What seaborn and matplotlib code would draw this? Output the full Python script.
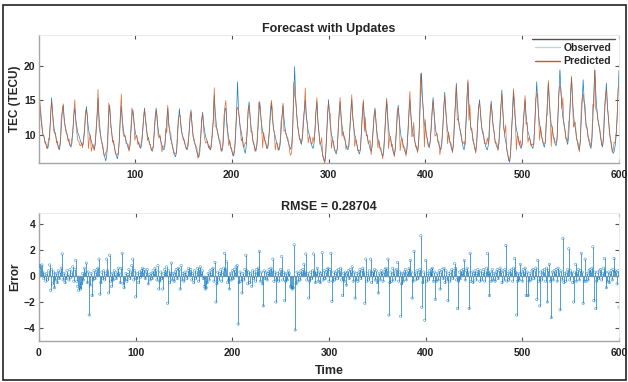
import numpy as np
import pandas as pd
import matplotlib
matplotlib.use("Agg")
import matplotlib.pyplot as plt
import seaborn as sns
from matplotlib.patches import Rectangle
from matplotlib.lines import Line2D

# ---------------- data ----------------
observed = [
    13.2,
    14.1, 12.3, 11.1, 10.1, 9.8, 9.2, 8.7, 8.3, 8.0, 8.6, 10.4, 12.6,
    15.4, 13.2, 11.6, 10.5, 10.1, 9.3, 8.7, 8.2, 7.8, 8.6, 10.9, 13.5,
    14.3, 12.5, 11.3, 10.3, 10.0, 9.4, 8.9, 8.5, 8.2, 8.8, 10.7, 12.8,
    13.9, 12.2, 11.2, 10.3, 10.0, 9.5, 9.0, 8.7, 8.4, 8.9, 10.6, 12.5,
    14.1, 12.4, 11.0, 10.1, 9.8, 9.1, 8.6, 8.2, 7.9, 8.5, 10.4, 12.6,
    15.3, 12.6, 10.8, 9.4, 8.9, 8.0, 7.3, 6.7, 6.2, 7.1, 9.8, 13.0,
    14.3, 12.0, 10.4, 9.2, 8.8, 8.1, 7.4, 6.9, 6.5, 7.3, 9.6, 12.4,
    14.2, 12.3, 11.0, 10.0, 9.7, 9.1, 8.6, 8.1, 7.8, 8.4, 10.4, 12.6,
    13.6, 11.9, 10.8, 10.0, 9.7, 9.1, 8.7, 8.3, 8.0, 8.6, 10.2, 12.2,
    13.9, 12.0, 10.8, 9.8, 9.5, 8.9, 8.4, 7.9, 7.6, 8.2, 10.1, 12.3,
    13.9, 12.1, 10.9, 9.9, 9.7, 9.0, 8.5, 8.1, 7.8, 8.4, 10.2, 12.4,
    13.9, 11.8, 10.4, 9.3, 9.0, 8.2, 7.7, 7.1, 6.8, 7.5, 9.6, 12.1,
    13.8, 12.0, 10.8, 9.9, 9.6, 9.0, 8.5, 8.1, 7.8, 8.4, 10.2, 12.3,
    13.6, 11.5, 10.2, 9.1, 8.8, 8.1, 7.5, 7.0, 6.7, 7.4, 9.5, 11.9,
    13.3, 11.6, 10.6, 9.7, 9.4, 8.9, 8.4, 8.0, 7.8, 8.3, 10.0, 12.3,
    15.8, 13.3, 11.7, 10.5, 10.1, 9.2, 8.6, 8.0, 7.6, 8.4, 10.9, 13.6,
    13.9, 11.8, 10.4, 9.4, 9.0, 8.3, 7.7, 7.2, 6.9, 7.6, 9.7, 12.8,
    17.7, 13.8, 12.1, 10.9, 10.4, 9.4, 8.5, 7.8, 7.3, 8.3, 10.9, 13.4,
    14.8, 12.6, 11.2, 10.1, 9.1, 8.5, 8.0, 7.6, 8.4, 10.5, 12.9,
    14.8, 12.7, 11.4, 10.4, 10.0, 9.3, 8.8, 8.3, 8.0, 8.7, 10.7, 13.0,
    14.6, 12.5, 11.2, 10.2, 9.8, 9.1, 8.6, 8.1, 7.8, 8.5, 10.5, 12.8,
    14.3, 12.4, 11.1, 10.1, 9.8, 9.1, 8.6, 8.2, 7.9, 8.6, 11.0, 15.2,
    19.9, 15.6, 13.2, 11.6, 10.4, 9.6, 9.0, 8.6, 9.4, 11.5, 13.4,
    15.1, 12.9, 11.6, 10.5, 10.1, 9.4, 8.9, 8.3, 8.0, 8.7, 10.8, 13.2,
    14.8, 12.2, 10.4, 9.1, 8.6, 7.8, 7.1, 6.4, 6.0, 6.9, 9.5, 12.6,
    15.1, 12.8, 11.2, 10.0, 9.6, 8.8, 8.1, 7.5, 7.2, 8.0, 10.4, 13.0,
    14.8, 12.7, 11.3, 10.3, 9.9, 9.2, 8.6, 8.1, 7.8, 8.5, 10.6, 13.0,
    15.1, 12.8, 11.2, 10.0, 9.6, 8.8, 8.1, 7.5, 7.2, 8.0, 10.4, 12.9,
    14.8, 12.6, 11.2, 10.2, 9.8, 9.0, 8.5, 7.9, 7.6, 8.3, 10.4, 12.5,
    13.9, 11.8, 10.4, 9.4, 9.0, 8.3, 7.7, 7.2, 6.9, 7.6, 9.8, 12.4,
    14.9, 12.6, 11.0, 9.9, 9.5, 8.7, 8.0, 7.4, 7.1, 7.9, 10.2, 12.6,
    14.3, 12.2, 10.8, 9.7, 9.3, 8.6, 8.0, 7.5, 7.2, 7.9, 10.1, 12.8,
    15.1, 12.9, 11.4, 10.3, 9.9, 9.1, 8.5, 8.0, 7.6, 8.6, 11.4, 15.8,
    19.0, 15.5, 13.2, 11.6, 11.0, 10.1, 9.3, 8.6, 8.1, 8.9, 10.8, 13.1,
    15.4, 13.1, 11.6, 10.4, 10.0, 9.2, 8.6, 8.1, 7.8, 8.6, 11.0, 13.5,
    16.2, 13.6, 11.9, 10.6, 10.2, 9.3, 8.6, 8.0, 7.6, 8.5, 11.2, 14.2,
    17.5, 14.6, 12.7, 11.2, 10.7, 9.7, 8.9, 8.2, 7.8, 8.8, 11.7, 15.0,
    17.7, 14.6, 12.6, 11.1, 10.6, 9.6, 8.7, 8.0, 7.6, 8.6, 11.4, 13.8,
    15.1, 12.9, 11.4, 10.3, 9.9, 9.1, 8.5, 8.0, 7.8, 8.5, 10.8, 13.1,
    14.9, 12.8, 11.4, 10.3, 9.2, 8.6, 8.2, 7.9, 8.7, 11.0, 13.9,
    16.5, 13.4, 11.2, 9.7, 9.1, 8.1, 7.2, 6.5, 6.0, 7.1, 10.2, 13.6,
    16.1, 13.6, 12.0, 10.8, 10.3, 9.4, 8.8, 8.3, 8.0, 8.9, 11.2, 13.3,
    15.1, 13.0, 11.5, 10.4, 10.0, 9.3, 8.7, 8.3, 8.0, 8.8, 11.3, 14.6,
    17.7, 14.8, 12.9, 11.5, 10.9, 9.9, 9.1, 8.5, 8.2, 9.2, 12.0, 14.9,
    17.5, 14.7, 12.9, 11.5, 11.0, 10.0, 9.2, 8.7, 8.4, 9.5, 12.6, 16.2,
    19.7, 16.3, 14.1, 12.5, 11.9, 10.8, 9.8, 9.1, 8.6, 9.7, 12.8, 15.6,
    18.3, 15.1, 13.1, 11.5, 10.9, 9.8, 8.9, 8.2, 7.8, 8.9, 12.0, 15.2,
    18.0, 15.0, 13.0, 11.5, 10.9, 9.9, 9.0, 8.4, 8.0, 9.1, 12.2, 16.0,
    19.7, 16.2, 14.0, 12.3, 11.7, 10.6, 9.6, 8.8, 8.2, 9.4, 12.7, 15.3,
    17.5, 14.4, 12.4, 10.9, 9.4, 8.5, 7.8, 7.3, 7.6, 8.4, 9.8,
    12.6, 16.2, 19.4,
]

# prediction error (Predicted - Observed)
error = [
    0.8, 0.7, 0.85, 0.3, -0.2, 0.1, -0.4, 0.2, -0.3, 0.4, 0.85, -1.1,
    0.5, -0.6, 0.3, -0.9, -0.3, 0.2, -0.5, 0.4, -0.2, 0.3, 0.6, 1.7,
    -0.3, 0.2, -0.5, -0.2, 0.4, 0.1, -0.3, 0.5, -0.1, 0.3, 0.7, -0.4,
    0.5, 1.2, -0.4, -0.8, -1.1, -0.9, -1.0, -0.6, 0.2, -0.3, 0.6, 0.3,
    1.0, -0.5, 0.3, -3.0, -0.7, 0.2, -1.5, -0.3, 0.4, -0.2, 0.3, 0.5,
    0.6, 1.3, -1.4, -0.5, 0.3, -0.2, 0.4, -0.3, 0.2, 1.3, 0.4, -1.3,
    1.6, -0.4, -0.8, 0.2, -0.3, 0.4, 0.1, -0.2, 0.3, 0.6, 0.2, -0.5,
    0.6, 1.75, -0.6, -0.9, -0.3, 0.2, -0.4, 0.1, 0.5, -0.2, 0.3, 0.8,
    1.3, -0.3, 0.4, -1.6, -0.2, 0.2, -0.5, 0.3, -0.1, 0.4, 0.6, 0.3,
    0.5, -0.2, 0.3, 0.5, -0.6, 0.1, -0.3, 0.2, -0.2, 0.4, 0.2, 0.6,
    0.4, -0.3, 0.8, -1.0, -0.4, 0.3, -0.2, -1.0, 0.2, 0.5, 0.3, 0.7,
    -2.1, 0.4, -0.5, 0.2, 1.0, -0.3, 0.2, -0.4, 0.3, 0.5, -0.2, 0.6,
    0.5, -1.0, 0.8, -0.3, 0.2, -0.4, 0.3, 0.1, -0.2, 0.4, 0.6, 0.3,
    0.5, -0.3, 0.2, -0.5, 0.4, -0.2, 0.3, 0.6, -0.4, 0.5, 0.7, 0.2,
    0.4, -0.2, -0.8, -1.0, -0.9, -0.5, 0.2, -0.3, 0.4, 0.1, 0.5, 0.6,
    -0.4, 1.05, -2.0, -0.6, 0.3, -0.3, 0.2, 0.5, -0.4, 0.3, 0.6, 1.75,
    0.5, 1.1, -0.5, -0.3, -1.0, 0.2, -0.3, 0.4, -0.2, 0.5, 0.3, 0.7,
    0.8, -3.7, -0.5, 0.3, -0.4, -1.3, 0.2, -0.3, 0.5, 1.6, 0.4, -0.6,
    0.3, -0.5, 0.2, -0.8, 0.4, -0.2, 0.3, -0.4, 0.5, 0.2, 0.6, 1.9,
    -0.4, 0.3, -0.6, -2.3, 0.4, -0.2, 0.3, -0.3, 0.2, 0.5, 0.3, 0.6,
    0.4, 1.3, -0.4, 0.3, -2.0, -0.3, 0.2, -0.4, 0.3, 0.5, 1.5, -0.3,
    0.3, -1.9, -0.4, 0.2, -0.3, 0.4, 0.2, -0.8, -0.9, -1.0, -0.9, 2.4,
    -4.15, -0.6, 0.3, -0.4, 0.2, -0.3, 0.4, 0.2, 0.5, 0.9, 0.3, 1.7,
    -0.3, 0.2, -1.7, -0.4, 0.3, -0.2, 0.4, 1.7, 0.3, -0.5, 0.2, 0.6,
    -0.4, 0.3, -0.5, 0.2, 1.8, -0.3, 0.4, -0.2, 0.3, 0.5, 0.6, -0.4,
    0.5, 1.75, -1.95, -0.4, 0.3, -0.3, 0.2, 0.4, -0.2, 0.5, 0.3, 0.6,
    -0.3, -1.5, 0.2, -0.4, 0.3, -0.7, 0.2, 0.4, -0.2, 0.5, 0.3, 0.7,
    -0.4, 0.3, -1.7, -0.3, 0.2, -0.4, 0.3, 0.5, -0.2, 0.4, 0.6, 0.3,
    -2.1, 1.3, -0.4, 0.2, -0.3, 0.4, 1.3, -0.5, 0.2, 0.3, 0.5, -0.3,
    0.4, -0.5, -1.3, 0.2, -0.3, 0.4, 0.2, -0.4, 0.3, 0.5, 0.6, 0.4,
    1.3, -3.0, -0.5, 0.3, -0.4, 0.6, 0.2, -0.3, 0.4, 0.5, 1.05, -0.4,
    0.3, -3.1, -0.6, 0.2, -0.4, 0.3, 0.5, -0.3, 0.2, 0.4, 0.6, 1.2,
    0.3, -1.7, -0.4, 1.9, 0.2, -0.3, 0.4, -0.2, 0.3, 0.5, 3.1, -2.4,
    -0.5, 0.3, -3.4, 1.2, -0.4, 0.2, -0.3, 0.4, 0.2, 0.5, 0.6, -0.4,
    0.3, -1.8, -0.4, 0.2, -0.3, 0.4, -1.0, 0.3, 0.5, -0.2, 0.6, -0.5,
    0.4, -0.3, -1.9, 0.2, -0.4, 0.3, 0.5, -0.2, 0.4, 0.95, 0.6, -0.3,
    -2.5, -0.4, 0.3, -0.2, 0.4, 0.2, 0.5, 1.2, -0.3, 0.4, 0.6, 0.3,
    -2.5, 1.75, -0.4, 0.3, -0.5, 0.2, 0.4, -0.3, 0.2, 0.5, 0.3, -0.4,
    0.4, -0.3, 0.2, 0.5, -0.4, 0.3, 0.6, 1.75, 0.2, -1.5, 0.3, -0.4,
    0.5, -0.3, 0.2, -0.4, 0.3, 0.5, -0.2, 0.4, 0.6, 0.3, -0.5, 0.4,
    -0.3, 0.5, 2.35, -0.4, 0.2, -0.3, 0.4, 0.2, 0.5, -0.4, 0.6, 1.35,
    0.3, -3.0, -0.4, 0.2, -0.3, 0.9, 0.3, -0.4, 0.5, 0.2, 0.6, -1.5,
    0.3, -1.5, -0.4, 0.2, -0.3, 0.4, 0.5, -0.2, 0.4, 0.6, -1.8, 1.2,
    -0.4, -2.3, 0.3, -0.3, 0.4, 0.2, 0.5, -0.4, 0.6, -2.0, 0.4, 0.9,
    -0.4, -3.2, 0.3, -0.3, 0.4, 0.2, 0.5, -0.4, 0.6, 0.3, -2.6, 0.4,
    -0.3, 2.9, -0.5, 0.2, -0.4, 0.3, 0.5, 2.1, -0.3, 0.4, 0.2, -0.5,
    -2.0, 0.3, 0.9, -0.4, 0.2, 0.5, -0.3, 0.4, 1.75, 0.3, -2.1, -0.4,
    1.3, -0.4, 0.2, -0.3, 0.4, 0.5, 0.3, 0.6, 2.25, -1.9, 0.3, -2.5,
    -0.4, 0.3, -0.2, 0.4, 0.5, -0.3, 0.2, 0.6, 1.35, 0.3, -0.9, -0.4,
    0.3, -0.5, 0.2, 0.4, -0.3, 0.5, 1.35, 0.4, 0.3, -0.6, 0.4, -2.4,
]

series_names = ["Observed", "Predicted"]
top_title = "Forecast with Updates"
bottom_title = "RMSE = 0.28704"
top_ylabel = "TEC (TECU)"
bottom_ylabel = "Error"
bottom_xlabel = "Time"
top_xticks = [100, 200, 300, 400, 500, 600]
bottom_xticks = [0, 100, 200, 300, 400, 500, 600]
top_yticks = [10, 15, 20]
bottom_yticks = [-4, -2, 0, 2, 4]

assert len(observed) == 600, len(observed)
assert len(error) == 600, len(error)

# ---------------- styling ----------------
sns.set_theme(style="white")
plt.rcParams["font.family"] = ["Liberation Sans", "DejaVu Sans"]
plt.rcParams["font.weight"] = "bold"
plt.rcParams["axes.labelweight"] = "bold"
plt.rcParams["axes.titleweight"] = "bold"

BLUE = "#0072BD"
ORANGE = "#D95319"
SPINE = "#a6a6a6"
TICK = "#555555"

time = np.arange(1, len(observed) + 1)
obs = np.array(observed)
err = np.array(error)
df = pd.DataFrame({"Time": time, "Observed": obs,
                   "Predicted": obs + err, "Error": err})

W, H = 628, 382
fig = plt.figure(figsize=(W / 100, H / 100), dpi=100)
ax1 = fig.add_axes([39 / W, 1 - 163 / H, 580 / W, 128 / H])
ax2 = fig.add_axes([39 / W, 1 - 341 / H, 580 / W, 128 / H])

# --- top panel: observed vs predicted
sns.lineplot(data=df, x="Time", y="Observed", ax=ax1, color=BLUE,
             linewidth=0.5, alpha=0.9, legend=False)
sns.lineplot(data=df, x="Time", y="Predicted", ax=ax1, color=ORANGE,
             linewidth=0.5, alpha=0.85, legend=False)
ax1.set_xlim(1, 600)
ax1.set_ylim(5.9, 24.5)
ax1.set_xticks(top_xticks)
ax1.set_yticks(top_yticks)
ax1.set_xlabel("")
ax1.set_ylabel(top_ylabel, fontsize=8.5, fontweight="bold")
ax1.yaxis.set_label_coords(-0.031, 0.5)
ax1.set_title(top_title, fontsize=9, fontweight="bold", pad=2.5)

handles = [Line2D([], [], color="#b9d5ec", lw=0.9),
           Line2D([], [], color=ORANGE, lw=1.0)]
leg = ax1.legend(handles, series_names, loc="upper right",
                 bbox_to_anchor=(615 / W, 1 - 39 / H),
                 bbox_transform=fig.transFigure, frameon=True,
                 fancybox=False, prop={"size": 7.5, "weight": "bold"},
                 handlelength=2.4, handletextpad=0.3, borderpad=0.35,
                 labelspacing=0.35, borderaxespad=0)
leg.get_frame().set_edgecolor("none")
leg.get_frame().set_facecolor("white")

# --- bottom panel: stem plot of errors
ax2.axhline(0, color="#a8a8a8", lw=1.0, zorder=1)
ax2.vlines(df["Time"], 0, df["Error"], color=BLUE, lw=0.55, alpha=0.85,
           zorder=2)
sns.scatterplot(data=df, x="Time", y="Error", ax=ax2, marker="o", s=3,
                facecolor="none", edgecolor=BLUE, linewidth=0.4, alpha=0.7,
                legend=False, zorder=3)
ax2.set_xlim(0, 600)
ax2.set_ylim(-5, 4.85)
ax2.set_xticks(bottom_xticks)
ax2.set_yticks(bottom_yticks)
ax2.set_xlabel(bottom_xlabel, fontsize=9, fontweight="bold")
ax2.set_ylabel(bottom_ylabel, fontsize=8.5, fontweight="bold")
ax2.yaxis.set_label_coords(-0.031, 0.5)
ax2.xaxis.set_label_coords(0.5, -0.19)
ax2.set_title(bottom_title, fontsize=9, fontweight="bold", pad=2.5)

for ax in (ax1, ax2):
    for side in ("left", "bottom"):
        ax.spines[side].set_color(SPINE)
        ax.spines[side].set_linewidth(1.0)
    for side in ("top", "right"):
        ax.spines[side].set_color("#e6e6e6")
        ax.spines[side].set_linewidth(0.6)
    ax.tick_params(axis="both", which="both", direction="in", length=3,
                   width=0.8, color=TICK, labelsize=7.5, labelcolor="#222222",
                   top=True, right=True, bottom=True, left=True)
    ax.tick_params(axis="x", pad=5)
    ax.tick_params(axis="y", pad=2.5)
    for lab in ax.get_xticklabels() + ax.get_yticklabels():
        lab.set_fontweight("bold")
    ax.set_facecolor("white")

# figure frame
fig.add_artist(Rectangle((3 / W, 2 / H), 623 / W, 375 / H,
                         transform=fig.transFigure, fill=False,
                         edgecolor="#222222", lw=1.2))

# top border line of the legend box
fig.canvas.draw()
bb = leg.get_window_extent()
x0, x1 = bb.x0 / W, bb.x1 / W
ytop = bb.y1 / H
fig.add_artist(Line2D([x0, x1], [ytop, ytop], transform=fig.transFigure,
                      color="#555555", lw=1.0))

fig.savefig("out.png", dpi=100, facecolor="white")
